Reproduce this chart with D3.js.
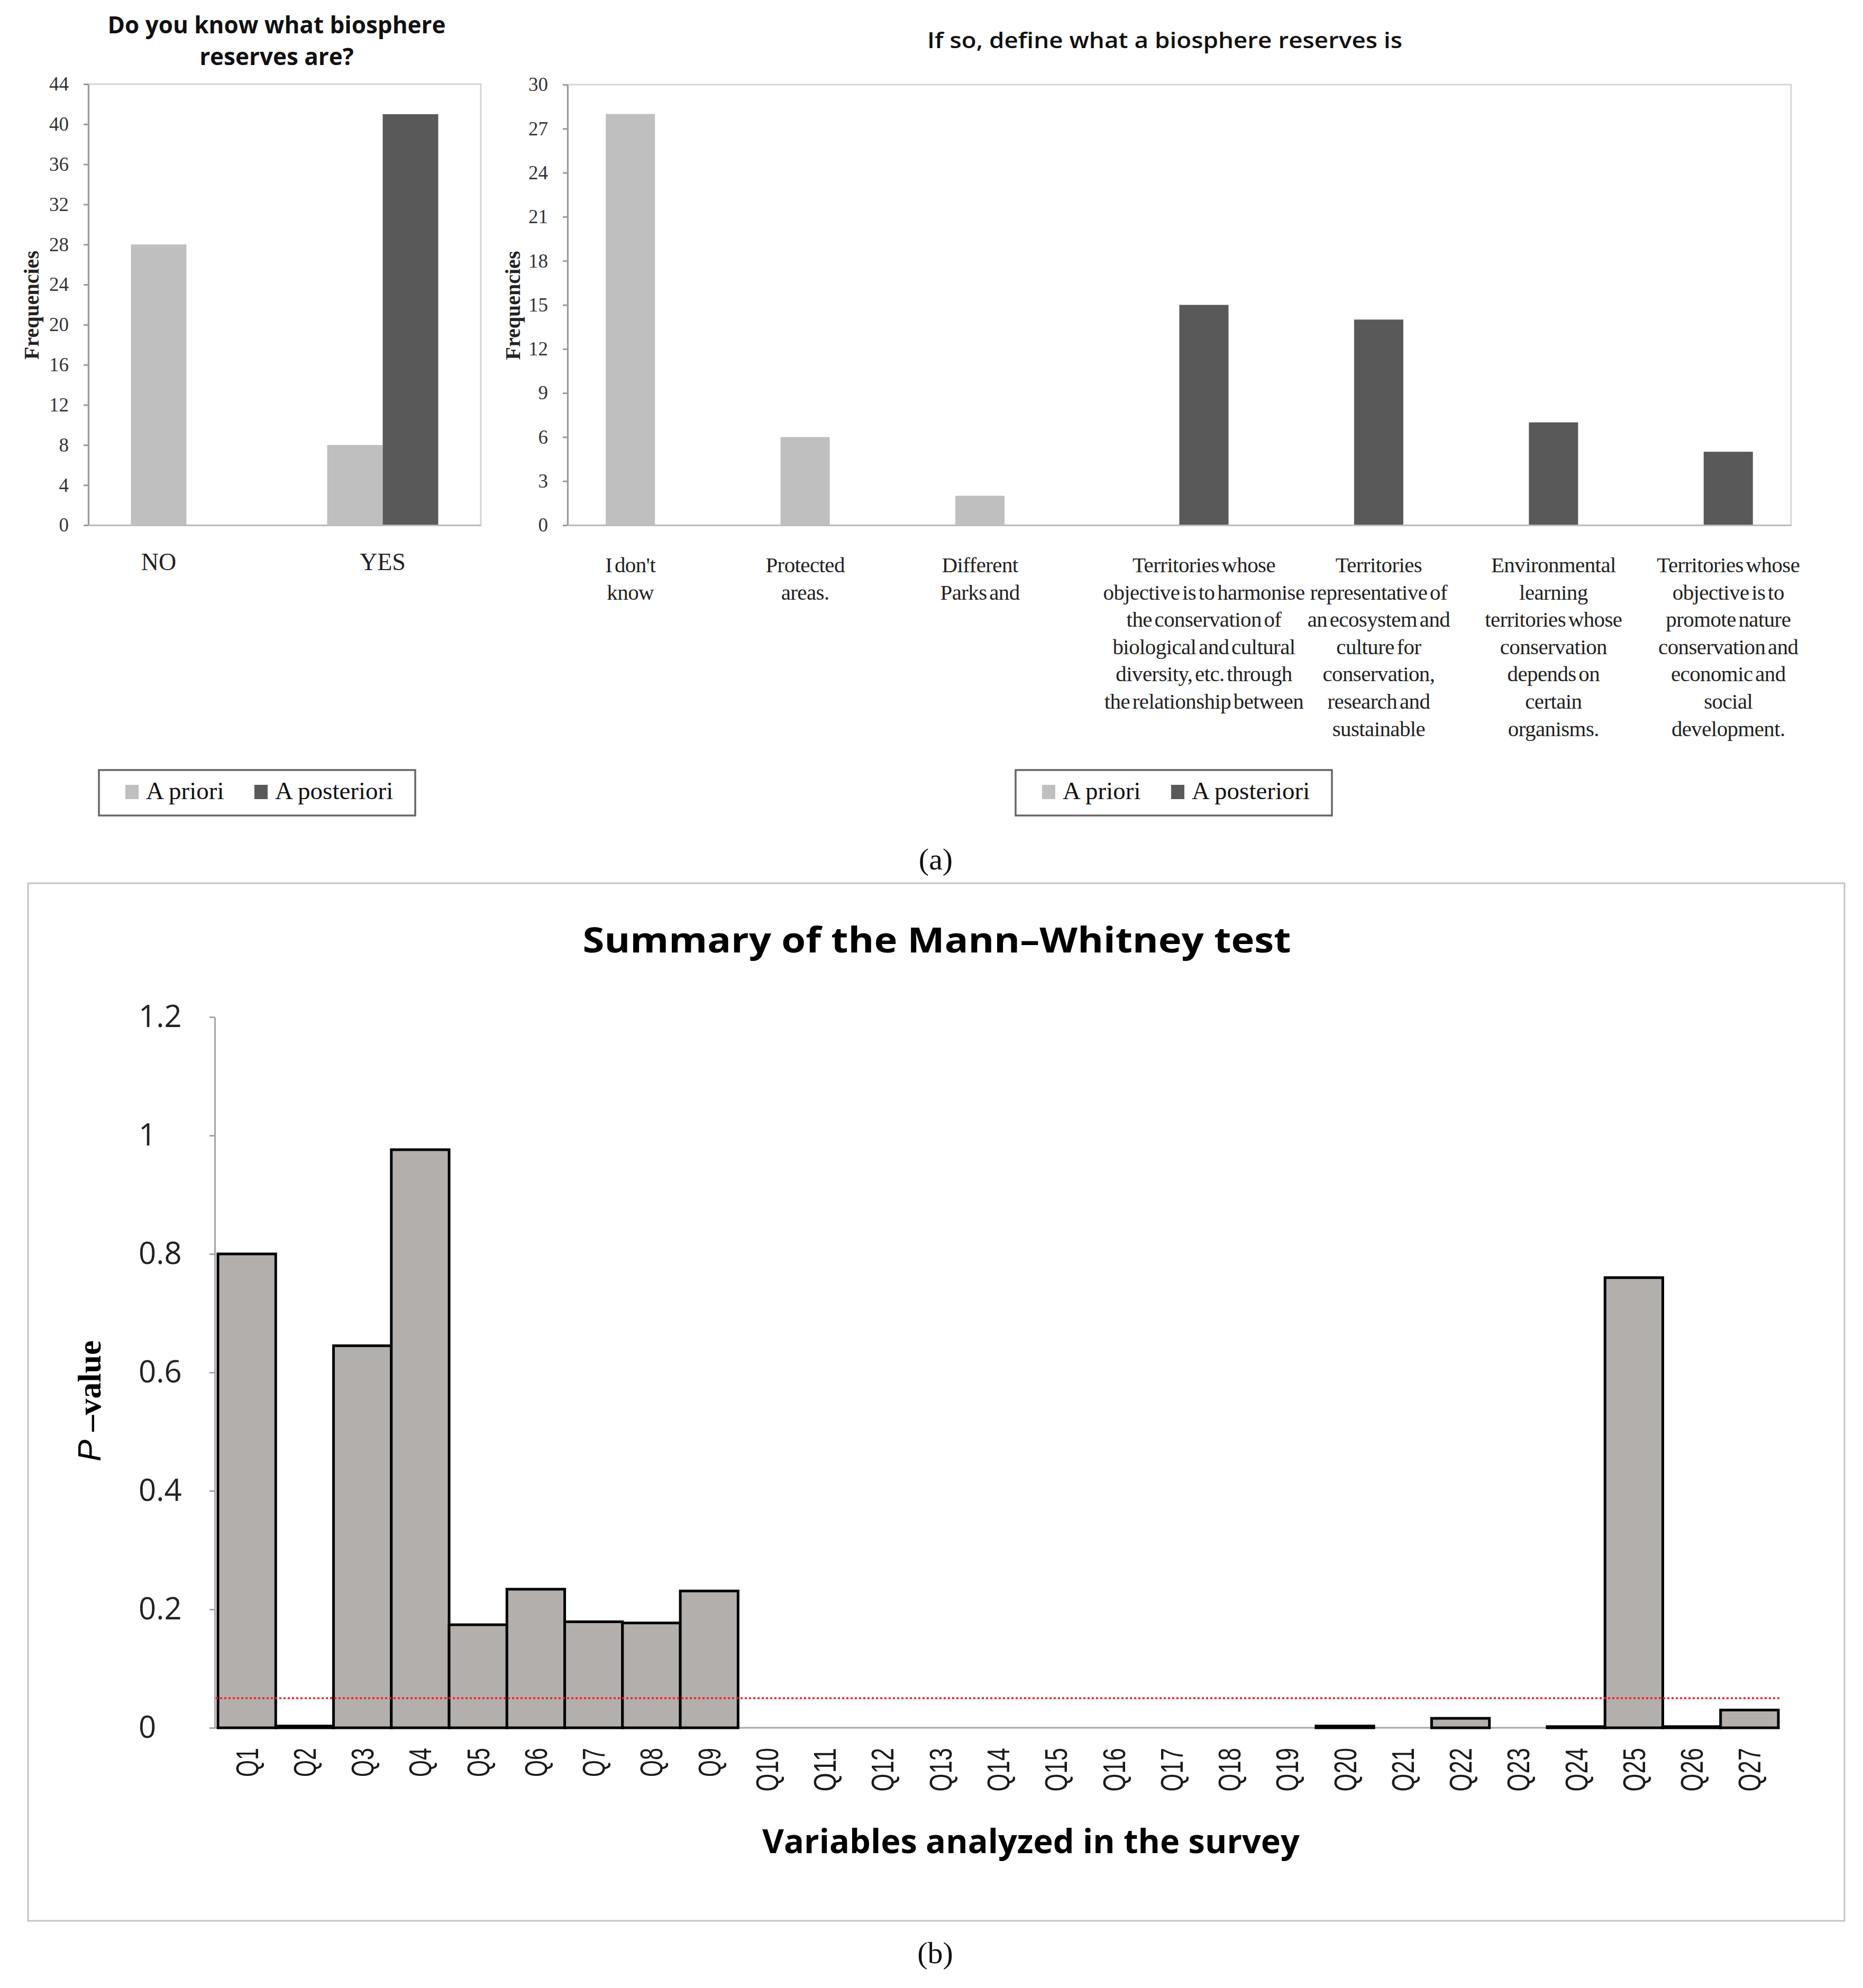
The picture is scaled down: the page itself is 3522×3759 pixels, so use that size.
<!DOCTYPE html>
<html><head><meta charset="utf-8">
<script src="https://cdn.jsdelivr.net/npm/d3@7/dist/d3.min.js"></script>
<style>body{margin:0;background:#fff;} svg{display:block;}</style>
</head><body>
<script>
// ---------- DATA ----------
const seriesNames = ["A priori", "A posteriori"];

const knowCategories = ["NO", "YES"];
const knowAPriori = [28, 8];
const knowAPosteriori = [0, 41];
const knowTicks = [0, 4, 8, 12, 16, 20, 24, 28, 32, 36, 40, 44];

const defineLabelLines = [
  ["I don't", "know"],
  ["Protected", "areas."],
  ["Different", "Parks and"],
  ["Territories whose", "objective is to harmonise", "the conservation of", "biological and cultural", "diversity, etc. through", "the relationship between"],
  ["Territories", "representative of", "an ecosystem and", "culture for", "conservation,", "research and", "sustainable"],
  ["Environmental", "learning", "territories whose", "conservation", "depends on", "certain", "organisms."],
  ["Territories whose", "objective is to", "promote nature", "conservation and", "economic and", "social", "development."]
];
const defineCategories = defineLabelLines.map(l => l.join(" "));
const defineAPriori = [28, 6, 2, 0, 0, 0, 0];
const defineAPosteriori = [0, 0, 0, 15, 14, 7, 5];
const defineTicks = [0, 3, 6, 9, 12, 15, 18, 21, 24, 27, 30];

const questionLabels = ["Q1","Q2","Q3","Q4","Q5","Q6","Q7","Q8","Q9","Q10","Q11","Q12","Q13","Q14","Q15","Q16","Q17","Q18","Q19","Q20","Q21","Q22","Q23","Q24","Q25","Q26","Q27"];
const pValues = [0.80, 0.003, 0.645, 0.976, 0.174, 0.234, 0.179, 0.177, 0.231, 0, 0, 0, 0, 0, 0, 0, 0, 0, 0, 0.003, 0, 0.016, 0, 0.002, 0.76, 0.002, 0.03];
const pTicks = [0, 0.2, 0.4, 0.6, 0.8, 1, 1.2];
const significanceLevel = 0.05;

// ---------- STYLE ----------
const W = 3522, H = 3759;
const SERIF = "'Liberation Serif', 'DejaVu Serif', serif";
const SANS = "'Open Sans', 'Noto Sans', sans-serif";
const color = d3.scaleOrdinal().domain(seriesNames).range(["#bfbfbf", "#595959"]);

const svg = d3.select("body").append("svg")
  .attr("width", W).attr("height", H).attr("viewBox", `0 0 ${W} ${H}`);
svg.append("rect").attr("width", W).attr("height", H).attr("fill", "#fff");

function groupedChart(o) {
  const g = svg.append("g");
  const x0 = d3.scaleBand().domain(o.categories).range([o.left, o.right])
    .paddingInner(o.pad).paddingOuter(o.pad / 2);
  const x1 = d3.scaleBand().domain(seriesNames).range([0, x0.bandwidth()]);
  const y = d3.scaleLinear().domain([0, o.yMax]).range([o.bottom, o.top]);

  // plot frame
  g.append("rect").attr("x", o.left).attr("y", o.top)
    .attr("width", o.right - o.left).attr("height", o.bottom - o.top)
    .attr("fill", "none").attr("stroke", "#d6d6d6").attr("stroke-width", 3);

  const rows = o.categories.map((c, i) => ({
    cat: c,
    vals: [{ s: seriesNames[0], v: o.a[i] }, { s: seriesNames[1], v: o.b[i] }]
  }));

  g.selectAll("g.cat").data(rows).join("g").attr("class", "cat")
    .attr("transform", d => `translate(${x0(d.cat)},0)`)
    .selectAll("rect").data(d => d.vals.filter(v => v.v > 0)).join("rect")
    .attr("x", d => x1(d.s)).attr("width", x1.bandwidth())
    .attr("y", d => y(d.v)).attr("height", d => y(0) - y(d.v))
    .attr("fill", d => color(d.s));

  // y axis
  const ya = g.append("g").attr("transform", `translate(${o.left},0)`)
    .call(d3.axisLeft(y).tickValues(o.ticks).tickSize(9).tickSizeOuter(0).tickPadding(28));
  ya.select(".domain").attr("stroke", "#9a9a9a").attr("stroke-width", 3);
  ya.selectAll(".tick line").attr("stroke", "#9a9a9a").attr("stroke-width", 3);
  ya.selectAll(".tick text").attr("font-family", SERIF).attr("font-size", 37).attr("fill", "#333");

  // x axis baseline
  const xa = g.append("g").attr("transform", `translate(0,${o.bottom})`)
    .call(d3.axisBottom(x0).tickSize(0).tickSizeOuter(0).tickFormat(""));
  xa.select(".domain").attr("stroke", "#bdbdbd").attr("stroke-width", 3);

  // category labels
  rows.forEach((r, i) => {
    const nz = r.vals.filter(v => v.v > 0);
    const cx = nz.length === 1 ? x0(r.cat) + x1(nz[0].s) + x1.bandwidth() / 2
                               : x0(r.cat) + x0.bandwidth() / 2;
    const t = g.append("text").attr("x", cx).attr("y", o.labelY)
      .attr("text-anchor", "middle").attr("font-family", SERIF)
      .attr("font-size", o.labelSize).attr("fill", "#222")
      .attr("letter-spacing", o.letterSp).attr("word-spacing", o.wordSp);
    o.labelLines[i].forEach((line, k) => {
      t.append("tspan").attr("x", cx).attr("dy", k === 0 ? 0 : o.lineH).text(line);
    });
  });

  // y label
  g.append("text").attr("transform", `translate(${o.yLabelX},${(o.top + o.bottom) / 2 + 1})rotate(-90)`)
    .attr("text-anchor", "middle").attr("dy", "0.3em")
    .attr("font-family", SERIF).attr("font-weight", "bold").attr("font-size", 40)
    .attr("fill", "#222").text("Frequencies");

  // title
  o.titleLines.forEach((line, k) => {
    const t = g.append("text").attr("x", o.titleX).attr("y", o.titleY + k * 60)
      .attr("text-anchor", "middle").attr("font-family", SANS)
      .attr("font-weight", o.titleWeight).attr("font-size", o.titleSize).attr("fill", "#111").text(line);
    if (o.titleLen) t.attr("textLength", o.titleLen).attr("lengthAdjust", "spacingAndGlyphs");
  });

  // legend
  const lg = g.append("g").attr("transform", `translate(${o.legendX},1456)`);
  lg.append("rect").attr("width", 598).attr("height", 86).attr("fill", "#fff")
    .attr("stroke", "#666").attr("stroke-width", 3.5);
  const items = [{ s: seriesNames[0], sx: 50, tx: 89 }, { s: seriesNames[1], sx: 294, tx: 333 }];
  items.forEach(it => {
    lg.append("rect").attr("x", it.sx).attr("y", 28).attr("width", 25).attr("height", 27).attr("fill", color(it.s));
    lg.append("text").attr("x", it.tx).attr("y", 55).attr("font-family", SERIF)
      .attr("font-size", 47).attr("fill", "#111").text(it.s);
  });
}

groupedChart({
  categories: knowCategories, a: knowAPriori, b: knowAPosteriori,
  left: 167, right: 909, top: 159, bottom: 993, pad: 0.434, yMax: 44, ticks: knowTicks,
  labelLines: knowCategories.map(c => [c]), labelY: 1078, labelSize: 46, lineH: 52,
  letterSp: 0, wordSp: 0,
  yLabelX: 61, titleLines: ["Do you know what biosphere", "reserves are?"],
  titleX: 523, titleY: 63, titleSize: 44, titleWeight: "bold", titleLen: null, legendX: 187
});

groupedChart({
  categories: defineCategories, a: defineAPriori, b: defineAPosteriori,
  left: 1073, right: 3386, top: 160, bottom: 993, pad: 0.437, yMax: 30, ticks: defineTicks,
  labelLines: defineLabelLines, labelY: 1082, labelSize: 41, lineH: 51.6,
  letterSp: -0.6, wordSp: -5,
  yLabelX: 971, titleLines: ["If so, define what a biosphere reserves is"],
  titleX: 2202, titleY: 91, titleSize: 41, titleWeight: 600, titleLen: 898, legendX: 1920
});

// panel labels
svg.append("text").attr("x", 1769).attr("y", 1644).attr("text-anchor", "middle")
  .attr("font-family", SERIF).attr("font-size", 58).attr("fill", "#111").text("(a)");
svg.append("text").attr("x", 1768).attr("y", 3712).attr("text-anchor", "middle")
  .attr("font-family", SERIF).attr("font-size", 58).attr("fill", "#111").text("(b)");

// ---------- BOTTOM CHART ----------
const gb = svg.append("g");
gb.append("rect").attr("x", 53).attr("y", 1670).attr("width", 3434).attr("height", 1962)
  .attr("fill", "none").attr("stroke", "#c4c4c4").attr("stroke-width", 3);

const axisX = 406;
const xb = d3.scaleBand().domain(questionLabels).range([412, 3362]).padding(0);
const yb = d3.scaleLinear().domain([0, 1.2]).range([3267, 1923]);

// y axis
const yba = gb.append("g").attr("transform", `translate(${axisX},0)`)
  .call(d3.axisLeft(yb).tickValues(pTicks).tickSize(10).tickSizeOuter(0)
    .tickFormat(d => String(+d.toFixed(1))));
yba.select(".domain").attr("stroke", "#a6a6a6").attr("stroke-width", 3);
yba.selectAll(".tick line").attr("stroke", "#a6a6a6").attr("stroke-width", 3);
yba.selectAll(".tick text").attr("text-anchor", "start").attr("x", 262 - axisX)
  .attr("font-family", SANS).attr("font-size", 58).attr("fill", "#222");

// baseline
gb.append("line").attr("x1", axisX).attr("x2", xb.range()[1] + 3)
  .attr("y1", yb(0)).attr("y2", yb(0)).attr("stroke", "#a6a6a6").attr("stroke-width", 3);

// bars
const pData = questionLabels.map((q, i) => ({ q, v: pValues[i] }));
gb.selectAll("rect.bar").data(pData.filter(d => d.v > 0)).join("rect").attr("class", "bar")
  .attr("x", d => xb(d.q)).attr("width", xb.bandwidth())
  .attr("y", d => yb(d.v)).attr("height", d => yb(0) - yb(d.v))
  .attr("fill", "#b3afad").attr("stroke", "#000").attr("stroke-width", 5);

// significance line
gb.append("line").attr("x1", axisX + 2).attr("x2", xb.range()[1] + 2)
  .attr("y1", yb(significanceLevel)).attr("y2", yb(significanceLevel))
  .attr("stroke", "#ff1a1a").attr("stroke-width", 3.5).attr("stroke-dasharray", "4 4");

// x tick labels
gb.selectAll("text.q").data(questionLabels).join("text").attr("class", "q")
  .attr("transform", d => `translate(${xb(d) + xb.bandwidth() / 2},3305)rotate(-90)`)
  .attr("text-anchor", "end").attr("dy", "0.35em")
  .attr("font-family", "'Liberation Sans', Arial, sans-serif").attr("font-size", 60)
  .attr("textLength", d => d.length * 27.5).attr("lengthAdjust", "spacingAndGlyphs")
  .attr("fill", "#1a1a1a").text(d => d);

// titles
gb.append("text").attr("x", 1771).attr("y", 1801).attr("text-anchor", "middle")
  .attr("font-family", SANS).attr("font-weight", "bold").attr("font-size", 67)
  .attr("textLength", 1339).attr("lengthAdjust", "spacingAndGlyphs")
  .attr("fill", "#000").text("Summary of the Mann\u2013Whitney test");

gb.append("text").attr("x", 1949).attr("y", 3504).attr("text-anchor", "middle")
  .attr("font-family", SANS).attr("font-weight", "bold").attr("font-size", 62)
  .attr("textLength", 1016).attr("lengthAdjust", "spacingAndGlyphs")
  .attr("fill", "#000").text("Variables analyzed in the survey");

const yl = gb.append("text").attr("transform", "translate(168,2649)rotate(-90)")
  .attr("text-anchor", "middle").attr("dy", "0.35em").attr("font-size", 62).attr("fill", "#000");
yl.append("tspan").attr("font-family", "'Liberation Sans', Arial, sans-serif").attr("font-style", "italic").text("P");
yl.append("tspan").attr("font-family", SERIF).attr("font-weight", "bold").text(" \u2013value");
</script>
</body></html>
